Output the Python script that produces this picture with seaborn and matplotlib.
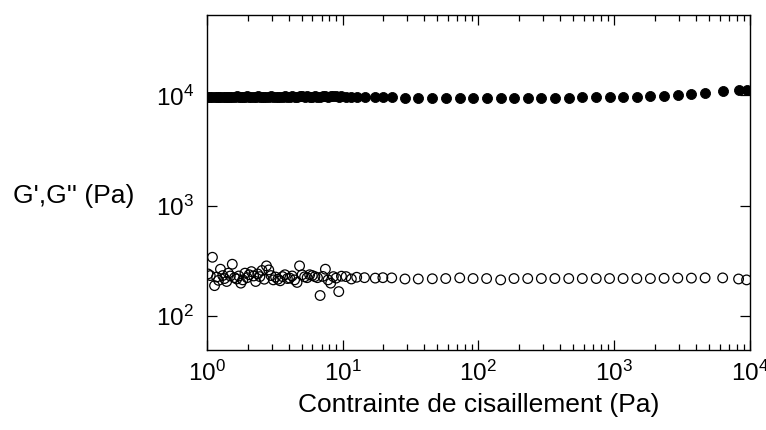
import numpy as np
import pandas as pd
import matplotlib
matplotlib.use('Agg')
import matplotlib.pyplot as plt
import matplotlib.ticker as mticker
import seaborn as sns

# contrainte de cisaillement (Pa), commune aux deux séries
stress = [1.02, 1.06, 1.10, 1.14, 1.18, 1.22, 1.26, 1.31, 1.35, 1.40,
          1.44, 1.49, 1.54, 1.60, 1.66, 1.72, 1.78, 1.84, 1.91, 1.98,
          2.05, 2.13, 2.21, 2.29, 2.37, 2.46, 2.55, 2.65, 2.75, 2.86,
          2.97, 3.09, 3.21, 3.34, 3.47, 3.61, 3.76, 3.92, 4.08, 4.25,
          4.43, 4.62, 4.82, 5.03, 5.25, 5.48, 5.72, 5.98, 6.25, 6.53,
          6.83, 7.14, 7.47, 7.81, 8.17, 8.55, 8.95, 9.37, 9.81,
          10.6, 11.6, 12.7, 14.5, 17.4, 19.8, 23.0,
          28.8, 36.1, 45.8, 57.5, 72.9, 91.4, 115, 146, 183, 231,
          291, 366, 463, 583, 738, 925, 1164, 1469, 1849, 2333,
          2944, 3707, 4677, 6300, 8250, 9450]

# G' (module élastique, symboles pleins)
g_prime = [9650, 9700, 9600, 9750, 9650, 9700, 9600, 9750, 9700, 9650,
           9700, 9750, 9650, 9700, 9800, 9700, 9650, 9750, 9700, 9800,
           9750, 9700, 9650, 9750, 9800, 9700, 9750, 9650, 9700, 9750,
           9800, 9700, 9750, 9700, 9650, 9750, 9800, 9700, 9750, 9800,
           9700, 9750, 9800, 9850, 9750, 9800, 9700, 9750, 9800, 9750,
           9700, 9800, 9850, 9750, 9800, 9850, 9800, 9750, 9800,
           9700, 9600, 9600, 9600, 9650, 9650, 9650,
           9500, 9500, 9500, 9500, 9550, 9550, 9550, 9550, 9550, 9550,
           9550, 9550, 9550, 9600, 9600, 9650, 9700, 9750, 9800, 9900,
           10000, 10200, 10500, 10900, 11300, 11300]

# G'' (module visqueux, symboles vides)
g_second = [240, 232, 340, 188, 225, 210, 265, 232, 218, 205,
            244, 230, 294, 222, 216, 230, 198, 212, 244, 222,
            236, 252, 230, 205, 240, 227, 258, 215, 284, 261,
            232, 212, 225, 215, 208, 227, 236, 218, 220, 230,
            212, 201, 284, 236, 226, 222, 236, 232, 227, 222,
            153, 228, 265, 212, 198, 227, 220, 166, 229,
            227, 216, 224, 222, 220, 222, 221,
            216, 216, 217, 218, 221, 218, 218, 212, 218, 218,
            218, 218, 218, 218, 218, 218, 218, 218, 218, 219,
            220, 220, 221, 221, 216, 212]

df = pd.DataFrame({'stress': stress, 'gp': g_prime, 'gs': g_second})

sns.set_theme(style='ticks')
plt.rcParams['font.family'] = ['Liberation Sans', 'DejaVu Sans']
plt.rcParams['mathtext.fontset'] = 'custom'
plt.rcParams['mathtext.rm'] = 'Liberation Sans'
plt.rcParams['mathtext.it'] = 'Liberation Sans:italic'
plt.rcParams['text.color'] = 'black'
plt.rcParams['axes.labelcolor'] = 'black'

fig, ax = plt.subplots(figsize=(7.66, 4.30), dpi=100)
fig.subplots_adjust(left=0.270, right=0.979, top=0.965, bottom=0.186)

sns.scatterplot(data=df, x='stress', y='gp', ax=ax, color='black',
                edgecolor='black', s=52, linewidth=0.6, zorder=3)
sns.scatterplot(data=df, x='stress', y='gs', ax=ax, facecolor='none',
                edgecolor='black', s=48, linewidth=0.9, zorder=3)

ax.set_xscale('log')
ax.set_yscale('log')
ax.set_xlim(1, 1e4)
ax.set_ylim(49, 53500)

ax.xaxis.set_major_locator(mticker.LogLocator(base=10, numticks=10))
ax.xaxis.set_minor_locator(mticker.LogLocator(base=10, subs=np.arange(2, 10), numticks=20))
ax.xaxis.set_minor_formatter(mticker.NullFormatter())
ax.yaxis.set_major_locator(mticker.FixedLocator([1e2, 1e3, 1e4]))
ax.yaxis.set_minor_locator(mticker.NullLocator())
ax.yaxis.set_major_formatter(mticker.LogFormatterSciNotation())

ax.tick_params(which='both', direction='in', top=True, right=True,
               colors='black', width=0.9, labelsize=17.5)
ax.tick_params(which='major', length=7)
ax.tick_params(which='minor', length=4)
ax.tick_params(axis='x', which='major', pad=8)
ax.tick_params(axis='y', which='major', pad=9)

for sp in ax.spines.values():
    sp.set_color('black')
    sp.set_linewidth(1.0)

ax.set_xlabel('Contrainte de cisaillement (Pa)', fontsize=19, labelpad=5)
ax.set_ylabel("G',G'' (Pa)", fontsize=19, rotation=0, ha='right', va='center')
ax.yaxis.set_label_coords(-0.134, 0.46)

fig.savefig('out.png', dpi=100)
